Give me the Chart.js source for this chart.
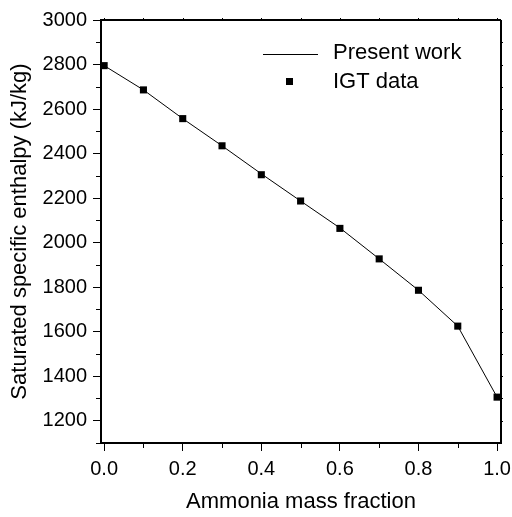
<!DOCTYPE html>
<html>
<head>
<meta charset="utf-8">
<script src="https://cdn.jsdelivr.net/npm/chart.js@4"></script>
<style>
html,body{margin:0;padding:0;background:#fff;}
#wrap{width:512px;height:517px;position:relative;}
</style>
</head>
<body>
<div id="wrap"><canvas id="c" width="512" height="517"></canvas></div>
<script>
const fractions = [0.0, 0.1, 0.2, 0.3, 0.4, 0.5, 0.6, 0.7, 0.8, 0.9, 1.0];
const presentWork = [2795, 2686, 2557, 2435, 2309, 2187, 2066, 1927, 1786, 1625, 1306];
const igtData = [2795, 2686, 2557, 2435, 2305, 2187, 2064, 1927, 1786, 1625, 1306];
const xMajorTicks = [0.0, 0.2, 0.4, 0.6, 0.8, 1.0];
const xMinorTicks = [0.1, 0.3, 0.5, 0.7, 0.9];
const yMajorTicks = [1200, 1400, 1600, 1800, 2000, 2200, 2400, 2600, 2800, 3000];
const yMinorTicks = [1100, 1300, 1500, 1700, 1900, 2100, 2300, 2500, 2700, 2900];
const seriesNames = ['Present work', 'IGT data'];
const xTitle = 'Ammonia mass fraction';
const yTitle = 'Saturated specific enthalpy (kJ/kg)';

const FONT = '"Liberation Sans", Arial, sans-serif';

const framePlugin = {
  id: 'frame',
  afterDatasetsDraw(chart) {
    const ctx = chart.ctx, a = chart.chartArea;
    const xs = chart.scales.x, ys = chart.scales.y;
    ctx.save();
    ctx.strokeStyle = '#000';
    ctx.lineWidth = 2;
    ctx.beginPath();
    ctx.moveTo(a.left, a.top); ctx.lineTo(a.right, a.top);
    ctx.moveTo(a.right, a.top); ctx.lineTo(a.right, a.bottom);
    ctx.stroke();
    ctx.lineWidth = 1;
    ctx.beginPath();
    yMinorTicks.forEach(v => { const y = Math.round(ys.getPixelForValue(v)) + 0.5; ctx.moveTo(a.left - 5, y); ctx.lineTo(a.left, y); });
    xMinorTicks.forEach(v => { const x = Math.round(xs.getPixelForValue(v)) + 0.5; ctx.moveTo(x, a.bottom); ctx.lineTo(x, a.bottom + 5); });
    yMinorTicks.concat(yMajorTicks).forEach(v => { const y = Math.round(ys.getPixelForValue(v)) + 0.5; if (y > a.top + 1 && y < a.bottom - 1) { ctx.moveTo(a.right, y); ctx.lineTo(a.right + 2, y); } });
    xMinorTicks.concat(xMajorTicks).forEach(v => { const x = Math.round(xs.getPixelForValue(v)) + 0.5; if (x > a.left + 1 && x < a.right - 1) { ctx.moveTo(x, a.top); ctx.lineTo(x, a.top - 2); } });
    ctx.stroke();

    ctx.font = '22px ' + FONT;
    ctx.fillStyle = '#000';
    ctx.textBaseline = 'middle';
    ctx.textAlign = 'left';
    ctx.lineWidth = 1;
    ctx.beginPath();
    ctx.moveTo(263, 54.5); ctx.lineTo(318, 54.5);
    ctx.stroke();
    ctx.fillText(seriesNames[0], 333, 53);
    ctx.fillRect(286, 78, 7, 7);
    ctx.fillText(seriesNames[1], 333, 82);
    ctx.restore();
  }
};

new Chart(document.getElementById('c'), {
  type: 'scatter',
  data: {
    datasets: [
      {
        label: seriesNames[0],
        data: fractions.map((x, i) => ({x, y: presentWork[i]})),
        showLine: true,
        borderColor: '#000',
        borderWidth: 1,
        pointRadius: 0,
        tension: 0
      },
      {
        label: seriesNames[1],
        data: fractions.map((x, i) => ({x, y: igtData[i]})),
        showLine: false,
        pointStyle: 'rect',
        pointRadius: 5,
        backgroundColor: '#000',
        borderColor: '#000',
        borderWidth: 0
      }
    ]
  },
  options: {
    responsive: false,
    animation: false,
    events: [],
    layout: { padding: { top: 20, right: 11, left: 0, bottom: 0 } },
    plugins: { legend: { display: false }, tooltip: { enabled: false } },
    scales: {
      x: {
        type: 'linear',
        min: -0.008,
        max: 1.01,
        afterBuildTicks: s => { s.ticks = xMajorTicks.map(v => ({value: v})); },
        afterFit: s => { s.height = 74; s.paddingLeft = 0; s.paddingRight = 0; },
        grid: { display: true, drawOnChartArea: false, tickLength: 8, color: '#000', tickWidth: 1 },
        border: { display: true, color: '#000', width: 2 },
        ticks: { color: '#000', font: { family: FONT, size: 20 }, padding: 6, maxRotation: 0, callback: v => Number(v).toFixed(1) },
        title: { display: true, text: xTitle, color: '#000', font: { family: FONT, size: 22 }, padding: { top: 0, bottom: 2 } }
      },
      y: {
        type: 'linear',
        min: 1100,
        max: 3000,
        afterBuildTicks: s => { s.ticks = yMajorTicks.map(v => ({value: v})); },
        afterFit: s => { s.width = 101; s.paddingTop = 0; s.paddingBottom = 0; },
        grid: { display: true, drawOnChartArea: false, tickLength: 8, color: '#000', tickWidth: 1 },
        border: { display: true, color: '#000', width: 2 },
        ticks: { color: '#000', font: { family: FONT, size: 20 }, padding: 6, callback: v => String(v) },
        title: { display: true, text: yTitle, color: '#000', font: { family: FONT, size: 22 }, padding: { top: 7, bottom: 0 } }
      }
    }
  },
  plugins: [framePlugin]
});
</script>
</body>
</html>
